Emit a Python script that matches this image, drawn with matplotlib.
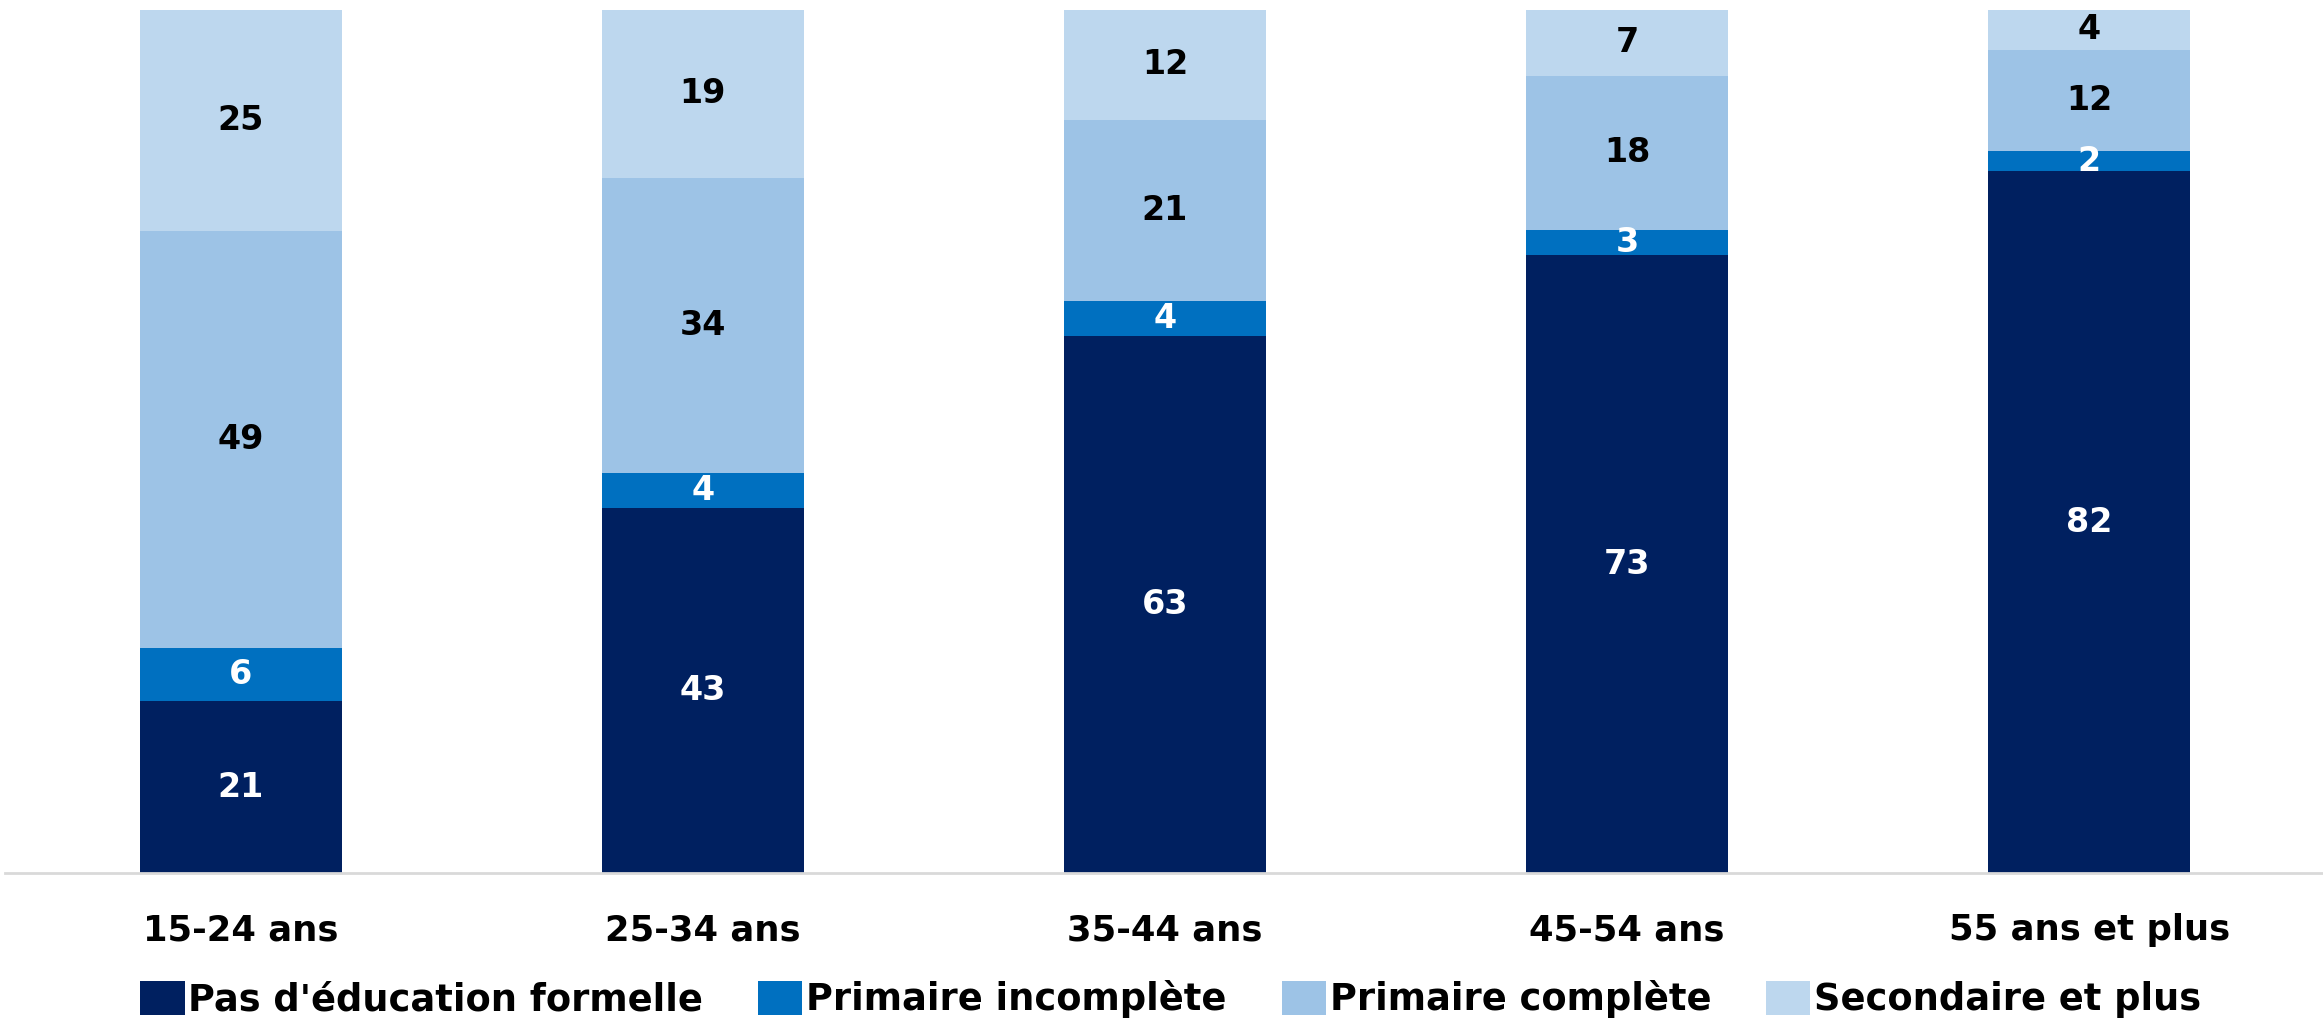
import matplotlib
matplotlib.use('agg')
import matplotlib.pyplot as plt
import numpy as np

# age groups and share (%) by education level
groups = ['15-24 ans', '25-34 ans', '35-44 ans', '45-54 ans', '55 ans et plus']
series = ["Pas d'éducation formelle", 'Primaire incomplète', 'Primaire complète', 'Secondaire et plus']
# segment heights
pas_educ = [19.9, 42.3, 62.2, 71.6, 81.3]
prim_incomp = [6.2, 4.0, 4.1, 2.9, 2.4]
prim_comp = [48.3, 34.2, 21.0, 17.9, 11.7]
secondaire = [25.6, 19.6, 12.7, 7.6, 4.6]
# printed (rounded) labels
lab_pas_educ = [21, 43, 63, 73, 82]
lab_prim_incomp = [6, 4, 4, 3, 2]
lab_prim_comp = [49, 34, 21, 18, 12]
lab_secondaire = [25, 19, 12, 7, 4]

colors = ['#002060', '#0070C0', '#9DC3E6', '#BDD7EE']
text_colors = ['white', 'white', 'black', 'black']

plt.rcParams['font.family'] = ['DejaVu Sans']
plt.rcParams['font.weight'] = 'bold'

fig = plt.figure(figsize=(23.23, 10.19), dpi=100)
ax = fig.add_axes([0.002, 0.1433, 0.998, 0.8468])

x = np.arange(len(groups))
bottom = np.zeros(len(groups))
data = [pas_educ, prim_incomp, prim_comp, secondaire]
labels = [lab_pas_educ, lab_prim_incomp, lab_prim_comp, lab_secondaire]
for vals, labs, name, col, tcol in zip(data, labels, series, colors, text_colors):
    vals = np.array(vals, dtype=float)
    ax.bar(x, vals, 0.436, bottom=bottom, color=col, label=name)
    for xi, b, v, l in zip(x, bottom, vals, labs):
        ax.text(xi, b + v / 2, '%d' % l, ha='center', va='center',
                color=tcol, fontsize=24, fontweight='bold')
    bottom += vals

ax.set_xlim(-0.511, 4.506)
ax.set_ylim(0, 100)
ax.set_xticks(x)
ax.set_xticklabels(groups, fontsize=25.5, fontweight='bold')
ax.tick_params(axis='x', length=0, pad=29)
ax.set_yticks([])
for s in ['top', 'right', 'left']:
    ax.spines[s].set_visible(False)
ax.spines['bottom'].set_color('#D9D9D9')
ax.spines['bottom'].set_linewidth(2)

fig.legend(loc='lower center', bbox_to_anchor=(0.504, -0.032), ncol=4, frameon=False,
           handlelength=1.2, handleheight=1.05, handletextpad=0.1,
           columnspacing=1.5, prop={'weight': 'bold', 'size': 26.5})

fig.savefig('out.png', dpi=100)
